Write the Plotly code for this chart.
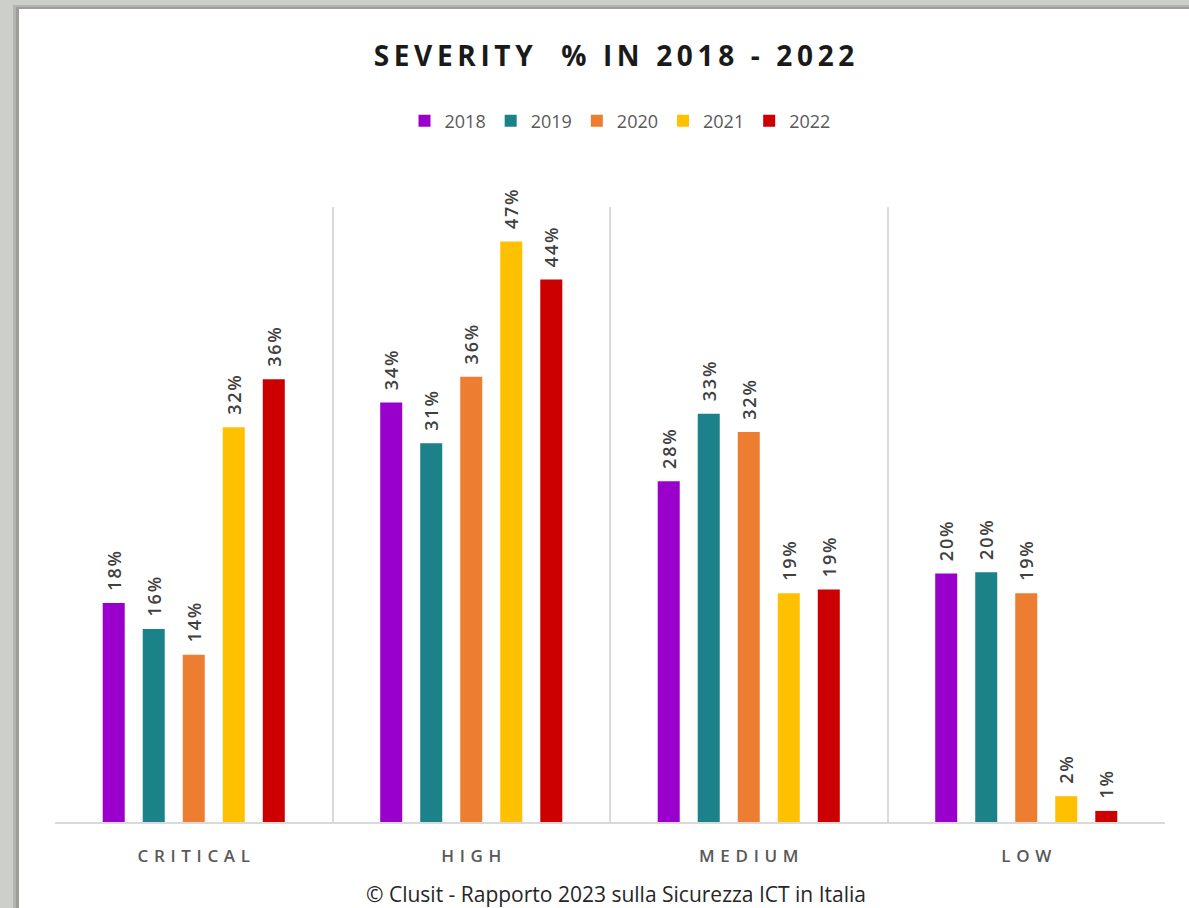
import plotly.graph_objects as go

# ---------------- data ----------------
categories = ["CRITICAL", "HIGH", "MEDIUM", "LOW"]
years = ["2018", "2019", "2020", "2021", "2022"]
values_2018 = [17.8, 34.1, 27.7, 20.2]
values_2019 = [15.7, 30.8, 33.2, 20.3]
values_2020 = [13.6, 36.2, 31.7, 18.6]
values_2021 = [32.1, 47.2, 18.6, 2.1]
values_2022 = [36.0, 44.1, 18.9, 0.9]
series = [values_2018, values_2019, values_2020, values_2021, values_2022]
colors = ["#9900CC", "#1A8288", "#ED7D31", "#FFC000", "#CC0000"]

title_text = "SEVERITY  % IN 2018 - 2022"
caption_text = "© Clusit - Rapporto 2023 sulla Sicurezza ICT in Italia"

# ---------------- layout geometry ----------------
W, H = 1189, 908
L, R, T, B = 55, 24, 207, 86
PW, PH = W - L - R, H - T - B


def px_x(p):
    return (p - L) / PW


def px_y(p):
    return (H - B - p) / PH


def spaced(s, sep="\u2004"):
    return sep.join(list(s))


NB = "\u00a0"
HAIR = "\u200a"

fig = go.Figure()
for name, vals, col in zip(years, series, colors):
    fig.add_trace(go.Bar(
        name=name,
        x=categories,
        y=vals,
        marker=dict(color=col, line=dict(width=0)),
        text=[NB * 2 + spaced(f"{round(v)}%", HAIR) for v in vals],
        textposition="outside",
        textangle=-90,
        constraintext="none",
        cliponaxis=False,
        textfont=dict(family="Open Sans", size=18, color="#404040", weight=600),
        hoverinfo="x+y+name",
    ))

shapes = []
# grey frame with shadow (decoration)
shapes.append(dict(type="rect", xref="paper", yref="paper",
                   x0=px_x(0), x1=px_x(W), y0=px_y(H), y1=px_y(0),
                   fillcolor="#cdcfca", line=dict(width=0), layer="below"))
shapes.append(dict(type="rect", xref="paper", yref="paper",
                   x0=px_x(13), x1=px_x(W), y0=px_y(H), y1=px_y(5),
                   fillcolor="#b3b4ae", line=dict(width=0), layer="below"))
shapes.append(dict(type="rect", xref="paper", yref="paper",
                   x0=px_x(16), x1=px_x(W), y0=px_y(H), y1=px_y(7),
                   fillcolor="#9d9e99", line=dict(width=0), layer="below"))
shapes.append(dict(type="rect", xref="paper", yref="paper",
                   x0=px_x(19), x1=px_x(W), y0=px_y(H), y1=px_y(9),
                   fillcolor="#ffffff", line=dict(width=0), layer="below"))

fig.update_layout(
    width=W, height=H,
    margin=dict(l=L, r=R, t=T, b=B, autoexpand=False),
    paper_bgcolor="#ffffff",
    plot_bgcolor="rgba(0,0,0,0)",
    barmode="group",
    bargap=0.279,
    bargroupgap=0.45,
    shapes=shapes,
    title=dict(
        text=spaced(title_text, "\u2009"),
        font=dict(family="Open Sans", size=28, color="#1a1a1a", weight=700),
        x=614 / W, xref="container", xanchor="center",
        y=1 - 56 / H, yref="container", yanchor="middle",
    ),
    legend=dict(
        orientation="h",
        x=620 / W, xref="container", xanchor="center",
        y=1 - 121 / H, yref="container", yanchor="middle",
        font=dict(family="Open Sans", size=18, color="#595959"),
        bgcolor="rgba(0,0,0,0)",
        itemclick=False, itemdoubleclick=False,
    ),
    xaxis=dict(
        type="category",
        tickmode="array",
        tickvals=categories,
        ticktext=[spaced(c) for c in categories],
        tickson="boundaries",
        showgrid=True, gridcolor="#d9d9d9", gridwidth=2,
        showline=True, linecolor="#d9d9d9", linewidth=2,
        ticks="", ticklabelstandoff=18,
        tickfont=dict(family="Open Sans", size=17, color="#595959", weight=600),
        zeroline=False,
        fixedrange=True,
    ),
    yaxis=dict(
        range=[0, 50],
        showgrid=False, zeroline=False,
        showticklabels=False, ticks="",
        showline=False,
        fixedrange=True,
    ),
    annotations=[dict(
        text=caption_text,
        xref="paper", yref="paper",
        x=px_x(616), y=px_y(894),
        xanchor="center", yanchor="middle",
        showarrow=False,
        font=dict(family="Open Sans", size=21, color="#262626"),
    )],
)

fig.write_html("out.html")
